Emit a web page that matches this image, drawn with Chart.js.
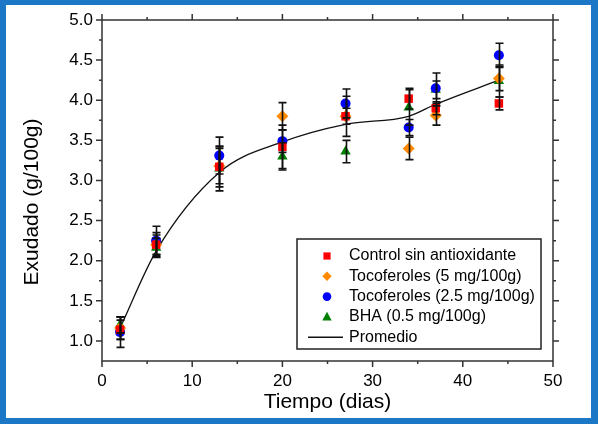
<!DOCTYPE html>
<html>
<head>
<meta charset="utf-8">
<script src="https://cdn.jsdelivr.net/npm/chart.js@4.4.1/dist/chart.umd.min.js"></script>
<style>
  html, body { margin: 0; padding: 0; background: #fff; }
  #wrap { width: 602px; height: 424px; }
</style>
</head>
<body>
<div id="wrap"><canvas id="exudadoChart" width="602" height="424"></canvas></div>
<script>
// data
const days = [2, 6, 13, 20, 27, 34, 37, 44];
const control = [1.14, 2.20, 3.17, 3.42, 3.80, 4.02, 3.90, 3.96];
const controlErr = [0.12, 0.12, 0.25, 0.27, 0.10, 0.13, 0.08, 0.08];
const toco5 = [1.16, 2.20, 3.18, 3.80, 3.80, 3.40, 3.81, 4.27];
const toco5Err = [0.14, 0.15, 0.22, 0.17, 0.25, 0.14, 0.12, 0.15];
const toco25 = [1.11, 2.25, 3.31, 3.49, 3.96, 3.66, 4.15, 4.56];
const toco25Err = [0.19, 0.18, 0.23, 0.14, 0.18, 0.10, 0.19, 0.15];
const bha = [1.20, 2.16, 3.15, 3.30, 3.36, 3.91, 4.13, 4.24];
const bhaErr = [0.10, 0.12, 0.28, 0.17, 0.14, 0.22, 0.11, 0.20];
const promedio = [1.16, 2.12, 3.10, 3.48, 3.70, 3.80, 3.95, 4.25];

const xTicks = [0, 10, 20, 30, 40, 50];
const xMinor = [5, 15, 25, 35, 45];
const yTicks = [1.0, 1.5, 2.0, 2.5, 3.0, 3.5, 4.0, 4.5, 5.0];
const yMinor = [1.25, 1.75, 2.25, 2.75, 3.25, 3.75, 4.25, 4.75];

const FONT = "'Liberation Sans', Arial, sans-serif";

function pts(ys) {
    return days.map((d, i) => ({ x: d, y: ys[i] }));
}

function markerSet(label, ys, errs, color, style, radius) {
    return {
        label: label,
        data: pts(ys),
        errors: errs,
        showLine: false,
        pointStyle: style,
        pointRadius: radius,
        pointBackgroundColor: color,
        pointBorderColor: color,
        pointBorderWidth: 0,
        backgroundColor: color,
        borderColor: color
    };
}

const datasets = [
    markerSet('Control sin antioxidante', control, controlErr, '#ff0000', 'rect', 6),
    markerSet('Tocoferoles (5 mg/100g)', toco5, toco5Err, '#ff8a00', 'rectRot', 6),
    markerSet('Tocoferoles (2.5 mg/100g)', toco25, toco25Err, '#0000ff', 'circle', 5),
    markerSet('BHA (0.5 mg/100g)', bha, bhaErr, '#008000', 'triangle', 6),
    {
        label: 'Promedio',
        data: pts(promedio),
        showLine: true,
        borderColor: '#111',
        borderWidth: 1.3,
        pointRadius: 0,
        cubicInterpolationMode: 'monotone',
        order: 10
    }
];

// legend marker drawing
function drawMarker(ctx, style, x, y, s, color) {
    ctx.save();
    ctx.fillStyle = color;
    ctx.beginPath();
    if (style === 'rect') {
        ctx.rect(x - s, y - s, 2 * s, 2 * s);
    } else if (style === 'rectRot') {
        ctx.moveTo(x, y - s * 1.3);
        ctx.lineTo(x + s * 1.3, y);
        ctx.lineTo(x, y + s * 1.3);
        ctx.lineTo(x - s * 1.3, y);
        ctx.closePath();
    } else if (style === 'circle') {
        ctx.arc(x, y, s * 1.2, 0, Math.PI * 2);
    } else if (style === 'triangle') {
        ctx.moveTo(x, y - s * 1.4);
        ctx.lineTo(x + s * 1.3, y + s);
        ctx.lineTo(x - s * 1.3, y + s);
        ctx.closePath();
    }
    ctx.fill();
    ctx.restore();
}

const figurePlugin = {
    id: 'figure',
    beforeDraw(chart) {
        const ctx = chart.ctx;
        ctx.save();
        ctx.fillStyle = '#1c77c6';
        ctx.fillRect(0, 0, 602, 424);
        ctx.fillStyle = '#ffffff';
        ctx.fillRect(6, 5, 585, 413);
        ctx.fillRect(598, 0, 4, 424);
        ctx.restore();
    },
    afterDatasetsDraw(chart) {
        const ctx = chart.ctx;
        const xs = chart.scales.x, ys = chart.scales.y;
        ctx.save();
        ctx.strokeStyle = '#111';
        ctx.lineWidth = 1.6;
        chart.data.datasets.forEach(ds => {
            if (!ds.errors) return;
            ds.data.forEach((p, i) => {
                const e = ds.errors[i];
                const px = Math.round(xs.getPixelForValue(p.x)) + 0.5;
                const top = ys.getPixelForValue(p.y + e);
                const bot = ys.getPixelForValue(p.y - e);
                ctx.beginPath();
                ctx.moveTo(px, top); ctx.lineTo(px, bot);
                ctx.moveTo(px - 4, top); ctx.lineTo(px + 4, top);
                ctx.moveTo(px - 4, bot); ctx.lineTo(px + 4, bot);
                ctx.stroke();
            });
        });
        ctx.restore();
    },
    afterDraw(chart) {
        const ctx = chart.ctx;
        const a = chart.chartArea;
        const xs = chart.scales.x, ys = chart.scales.y;
        ctx.save();
        // frame
        ctx.strokeStyle = '#333';
        ctx.lineWidth = 1.5;
        ctx.strokeRect(a.left, a.top, a.right - a.left, a.bottom - a.top);
        // ticks, outward on all four sides
        ctx.beginPath();
        const tickX = (v, len) => {
            const px = xs.getPixelForValue(v);
            ctx.moveTo(px, a.bottom); ctx.lineTo(px, a.bottom + len);
            ctx.moveTo(px, a.top); ctx.lineTo(px, a.top - len);
        };
        const tickY = (v, len) => {
            const py = ys.getPixelForValue(v);
            ctx.moveTo(a.left, py); ctx.lineTo(a.left - len, py);
            ctx.moveTo(a.right, py); ctx.lineTo(a.right + len, py);
        };
        xTicks.forEach(v => tickX(v, 6));
        xMinor.forEach(v => tickX(v, 3));
        yTicks.forEach(v => tickY(v, 6));
        yMinor.forEach(v => tickY(v, 3));
        ctx.stroke();

        // axis titles
        ctx.fillStyle = '#000';
        ctx.font = '21px ' + FONT;
        ctx.textAlign = 'center';
        ctx.textBaseline = 'middle';
        ctx.fillText('Tiempo (dias)', (a.left + a.right) / 2, 402);
        ctx.save();
        ctx.translate(32, 202);
        ctx.rotate(-Math.PI / 2);
        ctx.fillText('Exudado (g/100g)', 0, 0);
        ctx.restore();

        // legend box
        const lx = 297, ly = 239, lw = 244, lh = 110;
        ctx.fillStyle = '#fff';
        ctx.fillRect(lx, ly, lw, lh);
        ctx.strokeStyle = '#222';
        ctx.lineWidth = 1.5;
        ctx.strokeRect(lx, ly, lw, lh);
        ctx.font = '16px ' + FONT;
        ctx.textAlign = 'left';
        ctx.textBaseline = 'middle';
        chart.data.datasets.forEach((ds, i) => {
            const y = 256 + i * 20.3;
            if (ds.errors) {
                drawMarker(ctx, ds.pointStyle, 327, y, 3.6, ds.pointBackgroundColor);
            } else {
                ctx.strokeStyle = '#111';
                ctx.lineWidth = 1.5;
                ctx.beginPath();
                ctx.moveTo(308, y); ctx.lineTo(343, y);
                ctx.stroke();
            }
            ctx.fillStyle = '#000';
            ctx.fillText(ds.label, 349, y);
        });
        ctx.restore();
    }
};

const config = {
    type: 'scatter',
    data: { datasets: datasets },
    options: {
        responsive: false,
        animation: false,
        layout: { padding: { left: 0, right: 49, top: 20, bottom: 0 } },
        plugins: {
            legend: { display: false },
            tooltip: { enabled: false }
        },
        scales: {
            x: {
                type: 'linear',
                min: 0,
                max: 50,
                afterFit(s) { s.height = 63; },
                afterBuildTicks(s) { s.ticks = xTicks.map(v => ({ value: v })); },
                grid: { display: false },
                border: { display: false },
                ticks: {
                    color: '#000',
                    font: { family: FONT, size: 17 },
                    padding: 2,
                    maxRotation: 0,
                    callback: v => String(v)
                }
            },
            y: {
                type: 'linear',
                min: 0.75,
                max: 5,
                afterFit(s) { s.width = 102; },
                afterBuildTicks(s) { s.ticks = yTicks.map(v => ({ value: v })); },
                grid: { display: false },
                border: { display: false },
                ticks: {
                    color: '#000',
                    font: { family: FONT, size: 17 },
                    padding: 1,
                    callback: v => v.toFixed(1)
                }
            }
        }
    },
    plugins: [figurePlugin]
};

const exudadoChart = new Chart(document.getElementById('exudadoChart'), config);
</script>
</body>
</html>
